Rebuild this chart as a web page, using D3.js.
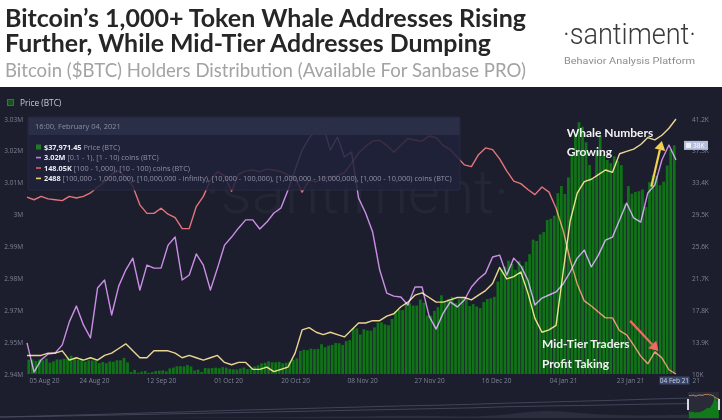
<!DOCTYPE html>
<html>
<head>
<meta charset="utf-8">
<script src="https://cdn.jsdelivr.net/npm/d3@7"></script>
<style>
  html, body { margin: 0; padding: 0; background: #1c1e2d; }
  svg { display: block; }
</style>
</head>
<body>
<svg id="chart" width="722" height="420"></svg>
<script>
// ---- data ----
const startDate = new Date(Date.UTC(2020, 7, 5));
const endDate = new Date(Date.UTC(2021, 1, 5));

// daily BTC price, thousands of USD, 05 Aug 2020 .. 04 Feb 2021
const priceBTC = [
  11.75, 11.78, 11.60, 11.76, 11.68, 11.89, 11.39, 11.56, 11.78, 11.77, 11.86, 11.91, 12.25, 11.99,
  11.74, 11.86, 11.52, 11.68, 11.65, 11.75, 11.33, 11.47, 11.32, 11.54, 11.50, 11.68, 11.68,
  11.97, 11.41, 10.25, 10.51, 10.17, 10.28, 10.37, 10.13, 10.24, 10.36, 10.40, 10.44, 10.33, 10.68,
  10.79, 10.95, 10.95, 10.93, 11.09, 10.92, 10.42, 10.54, 10.25, 10.74, 10.69, 10.73, 10.77, 10.71,
  10.84, 10.78,
  10.62, 10.57, 10.55, 10.67, 10.79, 10.60, 10.67, 10.92, 11.06, 11.30, 11.38, 11.55, 11.43, 11.43,
  11.50, 11.32, 11.37, 11.50, 11.75, 11.92, 12.82, 12.97, 12.93, 13.11, 13.03, 13.07, 13.64, 13.27,
  13.46, 13.56, 13.80,
  13.76, 13.55, 14.02, 14.15, 15.59, 15.58, 14.83, 15.48, 15.33, 15.30, 15.70, 16.28, 16.32, 16.07,
  15.96, 16.73, 17.66, 17.80, 17.82, 18.62, 18.64, 18.37, 18.36, 19.11, 18.73, 17.15, 17.14, 17.72,
  18.18, 19.63,
  18.80, 19.20, 19.45, 18.70, 19.15, 19.36, 19.17, 18.32, 18.55, 18.26, 18.06, 18.80, 19.17, 19.27,
  19.44, 21.31, 22.81, 23.14, 23.87, 23.48, 22.75, 23.82, 23.24, 23.74, 24.66, 26.44, 26.28, 27.08,
  27.36, 28.84, 29.00,
  29.37, 32.13, 33.00, 32.03, 34.05, 36.82, 39.37, 40.80, 40.25, 38.35, 35.57, 33.92, 37.32, 39.19,
  36.83, 36.18, 35.79, 36.63, 36.07, 35.55, 30.83, 32.99, 32.07, 32.28, 32.37, 32.57, 30.43, 33.47,
  34.32, 34.27, 33.11,
  33.54, 35.51, 37.47, 37.971
];

// holder series, one value every 2 days from 05 Aug 2020
const lineStepDays = 2;
// [0.1 - 1), [1 - 10) coins, millions of addresses
const holdersSmall = [
  2.9537, 2.9432, 2.9476, 2.9497, 2.9501, 2.9530, 2.9613, 2.9670, 2.9602, 2.9555,
  2.9735, 2.9764, 2.9638, 2.9742, 2.9800, 2.9843, 2.9728, 2.9818, 2.9807, 2.9807,
  2.9890, 2.9919, 2.9764, 2.9782, 2.9858, 2.9818, 2.9728, 2.9807, 2.9890, 2.9919,
  2.9952, 2.9981, 2.9981, 2.9948, 2.9973, 3.0006, 3.0024, 3.0089, 3.0161, 3.0233,
  3.0276, 3.0309, 3.0320, 3.0233, 3.0280, 3.0208, 3.0226, 3.0060, 3.0006, 2.9937,
  2.9800, 2.9717, 2.9706, 2.9703, 2.9674, 2.9739, 2.9739, 2.9634, 2.9587, 2.9645,
  2.9685, 2.9667, 2.9692, 2.9739, 2.9768, 2.9789, 2.9847, 2.9854, 2.9782, 2.9843,
  2.9815, 2.9764, 2.9674, 2.9699, 2.9710, 2.9721, 2.9750, 2.9793, 2.9843, 2.9872,
  2.9811, 2.9854, 2.9908, 2.9919, 2.9981, 3.0042, 2.9988, 2.9973, 3.0078, 3.0107,
  3.0197, 3.0251, 3.0197
];
// [100 - 1,000), [10 - 100) coins, thousands of addresses
const holdersMid = [
  150.08, 150.05, 150.09, 150.06, 150.05, 150.04, 150.09, 150.07, 150.09, 150.13,
  150.20, 150.26, 150.35, 150.39, 150.31, 150.21, 149.99, 149.89, 149.89, 149.95,
  149.88, 149.84, 149.71, 149.71, 149.97, 150.09, 150.28, 150.38, 150.33, 150.15,
  150.35, 150.39, 150.40, 150.38, 150.41, 150.40, 150.38, 150.34, 150.31, 150.14,
  150.28, 150.26, 150.31, 150.32, 150.33, 150.37, 150.48, 150.60, 150.68, 150.74,
  150.75, 150.69, 150.61, 150.69, 150.77, 150.75, 150.74, 150.80, 150.78, 150.69,
  150.64, 150.55, 150.46, 150.44, 150.58, 150.66, 150.64, 150.53, 150.39, 150.27,
  150.24, 150.17, 150.11, 150.20, 150.14, 149.95, 149.69, 149.34, 149.06, 148.86,
  148.80, 148.73, 148.66, 148.66, 148.51, 148.46, 148.34, 148.21, 148.12, 148.26,
  148.19, 148.05, 148.00
];
// 1,000+ coins (whales), addresses
const holdersWhale = [
  2386, 2386, 2386, 2387, 2387, 2388, 2384, 2385, 2384, 2385,
  2384, 2386, 2387, 2389, 2391, 2388, 2385, 2385, 2388, 2388,
  2388, 2387, 2385, 2386, 2385, 2384, 2385, 2386, 2383, 2382,
  2383, 2383, 2380, 2380, 2381, 2379, 2380, 2381, 2387, 2397,
  2398, 2396, 2395, 2396, 2395, 2394, 2397, 2400, 2400, 2401,
  2401, 2403, 2404, 2407, 2409, 2412, 2413, 2411, 2409, 2409,
  2410, 2411, 2411, 2410, 2412, 2414, 2417, 2424, 2419, 2420,
  2422, 2413, 2402, 2396, 2397, 2399, 2422, 2444, 2456, 2461,
  2462, 2464, 2466, 2465, 2473, 2474, 2475, 2477, 2480, 2479,
  2481, 2484, 2488
];

// axis ticks
const leftTicks = [2.9425, 2.954, 2.9655, 2.977, 2.9885, 3.0, 3.0115, 3.023, 3.0345];
const rightTicks = [10, 13.9, 17.8, 21.7, 25.6, 29.5, 33.4, 37.3, 41.2];
const xTickStepDays = 19;
const xTickCount = 10;

// tooltip rows
const tooltipTitle = "16:00, February 04, 2021";
const tooltipValues = ["$37,971.45", "3.02M", "148.05K", "2488"];
const tooltipLabels = [
  " Price (BTC)",
  " [0.1 - 1), [1 - 10) coins (BTC)",
  " [100 - 1,000), [10 - 100) coins (BTC)",
  " [100,000 - 1,000,000), [10,000,000 - infinity), [10,000 - 100,000), [1,000,000 - 10,000,000), [1,000 - 10,000) coins (BTC)"
];

// annotations: [day offset from start, price K]
const noteWhale = ["Whale Numbers", "Growing"];
const noteWhalePos = [[153.4, 39.0], [153.4, 36.7]];
const noteMid = ["Mid-Tier Traders", "Profit Taking"];
const noteMidPos = [[146.0, 13.2], [146.0, 10.75]];
const arrowWhale = [[177.6, 32.9], [180.1, 38.5]];
const arrowMid = [[171.5, 16.5], [179.6, 12.8]];

// navigator history (faint, normalised)
const navHistA = [0.04, 0.08, 0.12, 0.16, 0.21, 0.25, 0.3, 0.34, 0.38, 0.42, 0.46, 0.5, 0.53, 0.57, 0.62, 0.66, 0.7, 0.74, 0.79, 0.83];
const navHistB = [0.04, 0.06, 0.09, 0.12, 0.15, 0.18, 0.21, 0.24, 0.27, 0.3, 0.33, 0.36, 0.39, 0.42, 0.47, 0.5, 0.52, 0.55, 0.58, 0.6];
const navHistPrice = [0, 0, 0, 0, 0.01, 0.01, 0.02, 0.02, 0.03, 0.05, 0.06, 0.1, 0.08, 0.05, 0.12, 0.35, 0.2, 0.12, 0.1, 0.14];

const colors = {
  bg: "#1c1e2d",
  bar: "#107318",
  small: "#c47fe0",
  mid: "#e2625e",
  whale: "#e9d07a",
  axis: "#7f8296"
};

// ---- layout ----
const svg = d3.select("#chart");
const W = 722, H = 420;
const plot = { left: 27, right: 676, top: 119, bottom: 374 };

const x = d3.scaleUtc().domain([startDate, endDate]).range([plot.left, plot.right]);
const yLeft = d3.scaleLinear().domain([2.9425, 3.0345]).range([plot.bottom, plot.top]);
const yRight = d3.scaleLinear().domain([10, 41.2]).range([plot.bottom, plot.top]);
const yMid = d3.scaleLinear().domain([148.0, 151.0]).range([plot.bottom, plot.top]);
const yWhale = d3.scaleLinear().domain([2378, 2488]).range([plot.bottom, plot.top]);

const dayAt = i => d3.utcDay.offset(startDate, i);
const lineDate = i => d3.utcDay.offset(startDate, i * lineStepDays);

// header
svg.append("rect").attr("width", W).attr("height", 87).attr("fill", "#ffffff");
svg.append("rect").attr("y", 87).attr("width", W).attr("height", H - 87).attr("fill", colors.bg);

const title = svg.append("g").attr("font-family", "Lato, 'Open Sans', sans-serif");
title.append("text").attr("x", 5).attr("y", 27)
    .attr("font-size", 24).attr("font-weight", 700).attr("fill", "#262626")
    .attr("textLength", 521).attr("lengthAdjust", "spacingAndGlyphs")
    .text("Bitcoin’s 1,000+ Token Whale Addresses Rising");
title.append("text").attr("x", 5).attr("y", 52)
    .attr("font-size", 24).attr("font-weight", 700).attr("fill", "#262626")
    .attr("textLength", 486).attr("lengthAdjust", "spacingAndGlyphs")
    .text("Further, While Mid-Tier Addresses Dumping");
title.append("text").attr("x", 5).attr("y", 77)
    .attr("font-size", 18.5).attr("font-weight", 400).attr("fill", "#a3a3a3")
    .attr("textLength", 521).attr("lengthAdjust", "spacingAndGlyphs")
    .text("Bitcoin ($BTC) Holders Distribution (Available For Sanbase PRO)");

svg.append("text").attr("x", 563).attr("y", 44)
    .attr("font-family", "Roboto, sans-serif").attr("font-weight", 300)
    .attr("font-size", 30).attr("fill", "#3a3a3a")
    .attr("textLength", 133).attr("lengthAdjust", "spacingAndGlyphs")
    .text("·santiment·");
svg.append("text").attr("x", 564).attr("y", 64)
    .attr("font-family", "Roboto, sans-serif").attr("font-size", 9.5).attr("fill", "#8c8c8c")
    .attr("textLength", 131).attr("lengthAdjust", "spacingAndGlyphs")
    .text("Behavior Analysis Platform");

// watermark
svg.append("text").attr("x", 205).attr("y", 213)
    .attr("font-family", "Roboto, sans-serif").attr("font-weight", 300)
    .attr("font-size", 62).attr("fill", "#ffffff").attr("fill-opacity", 0.04)
    .text("·santiment·");

// price bars
svg.append("g")
  .selectAll("rect")
  .data(priceBTC)
  .join("rect")
    .attr("x", (d, i) => x(dayAt(i)) + 0.4)
    .attr("width", (d, i) => x(dayAt(i + 1)) - x(dayAt(i)) - 0.8)
    .attr("y", d => yRight(d))
    .attr("height", d => yRight(10) - yRight(d))
    .attr("fill", colors.bar);

// holder lines
const series = [
  { values: holdersSmall, scale: yLeft, color: colors.small },
  { values: holdersMid, scale: yMid, color: colors.mid },
  { values: holdersWhale, scale: yWhale, color: colors.whale }
];
const gLines = svg.append("g");
series.forEach(s => {
  const line = d3.line()
      .x((d, i) => x(lineDate(i)))
      .y(d => s.scale(d));
  gLines.append("path")
      .attr("d", line(s.values))
      .attr("fill", "none")
      .attr("stroke", s.color)
      .attr("stroke-width", 1.4)
      .attr("stroke-linejoin", "round")
      .style("mix-blend-mode", "screen");
});

// axes
const axisFont = g => g.selectAll("text")
    .attr("fill", colors.axis)
    .attr("font-family", "'Open Sans', sans-serif")
    .attr("font-size", 6.5);

const gLeft = svg.append("g")
    .attr("transform", "translate(" + 24 + ",0)")
    .call(d3.axisLeft(yLeft).tickValues(leftTicks).tickFormat(d3.format(".3~s")).tickSize(0).tickPadding(1));
gLeft.selectAll("text").text(d => d3.format(".3~s")(d * 1e6));
gLeft.call(axisFont);

const gRight = svg.append("g")
    .attr("transform", "translate(" + 691 + ",0)")
    .call(d3.axisRight(yRight).tickValues(rightTicks)
      .tickFormat(d => d3.format("~")(+d.toFixed(1)) + "K").tickSize(0).tickPadding(1));
gRight.call(axisFont);

const xTicks = d3.range(xTickCount).map(i => dayAt(i * xTickStepDays));
const gBottom = svg.append("g")
    .attr("transform", "translate(0," + 375 + ")")
    .call(d3.axisBottom(x).tickValues(xTicks).tickFormat(d3.utcFormat("%d %b %y")).tickSize(0).tickPadding(3));
gBottom.call(axisFont);
gBottom.selectAll(".tick text").filter((d, i) => i === 0)
    .attr("text-anchor", "start").attr("dx", 2);
[gLeft, gRight, gBottom].forEach(g => g.select(".domain").remove());

// current value markers
const lastDay = dayAt(priceBTC.length - 1);
const tagX = x(lastDay);
svg.append("rect").attr("x", tagX - 13).attr("y", 376.5).attr("width", 30).attr("height", 8)
    .attr("fill", "#3a4668");
svg.append("text").attr("x", tagX + 2).attr("y", 382.5).attr("text-anchor", "middle")
    .attr("font-family", "'Open Sans', sans-serif").attr("font-size", 6.5).attr("fill", "#c9d0ec")
    .text(d3.utcFormat("%d %b %y")(lastDay));
svg.append("text").attr("x", tagX + 20).attr("y", 382.5)
    .attr("font-family", "'Open Sans', sans-serif").attr("font-size", 6.5).attr("fill", colors.axis)
    .text("21");

const lastPrice = priceBTC[priceBTC.length - 1];
svg.append("rect").attr("x", 684).attr("y", yRight(lastPrice) - 4.5).attr("width", 24).attr("height", 9)
    .attr("fill", "#b7bedb");
svg.append("rect").attr("x", 686).attr("y", yRight(lastPrice) - 2.5).attr("width", 5).attr("height", 5)
    .attr("fill", "#eef0f8");
svg.append("text").attr("x", 693).attr("y", yRight(lastPrice) + 2.3)
    .attr("font-family", "'Open Sans', sans-serif").attr("font-size", 6.5).attr("fill", "#ffffff")
    .text(Math.round(lastPrice) + "K");

// legend
svg.append("rect").attr("x", 7.5).attr("y", 99.5).attr("width", 6).attr("height", 6)
    .attr("fill", "#14531a").attr("stroke", "#2f8d36").attr("stroke-width", 0.8);
svg.append("text").attr("x", 20).attr("y", 105.5)
    .attr("font-family", "'Open Sans', sans-serif").attr("font-size", 8.3).attr("fill", "#c9cbd6")
    .text("Price (BTC)");

// tooltip
const tip = svg.append("g").attr("font-family", "'Open Sans', sans-serif");
tip.append("rect").attr("x", 28).attr("y", 117).attr("width", 432).attr("height", 73).attr("rx", 2)
    .attr("fill", "#20223a").attr("fill-opacity", 0.86)
    .attr("stroke", "#2c2f48").attr("stroke-width", 0.8);
tip.append("rect").attr("x", 28.5).attr("y", 117.5).attr("width", 431).attr("height", 17.5)
    .attr("fill", "#2d3049").attr("fill-opacity", 0.85);
tip.append("text").attr("x", 35).attr("y", 129).attr("font-size", 7.5).attr("fill", "#8b8ea4")
    .text(tooltipTitle);
const markColors = ["#1f7a26", colors.small, colors.mid, colors.whale];
tooltipValues.forEach((v, i) => {
  const yy = 150 + i * 10.4;
  if (i === 0) {
    tip.append("rect").attr("x", 36).attr("y", yy - 5.5).attr("width", 5).attr("height", 5)
        .attr("fill", markColors[i]);
  } else {
    tip.append("rect").attr("x", 36).attr("y", yy - 3.6).attr("width", 5).attr("height", 1.6)
        .attr("fill", markColors[i]);
  }
  const t = tip.append("text").attr("x", 44).attr("y", yy).attr("font-size", 7.3);
  t.append("tspan").attr("font-weight", 700).attr("fill", "#eceef6").text(v);
  t.append("tspan").attr("fill", "#8e91a6").text(tooltipLabels[i]);
});

// annotations
const ann = svg.append("g").attr("font-family", "Lato, 'Open Sans', sans-serif")
    .attr("font-weight", 700).attr("font-size", 12).attr("fill", "#f1f1f1");
noteWhale.forEach((t, i) => ann.append("text")
    .attr("x", x(dayAt(noteWhalePos[i][0]))).attr("y", yRight(noteWhalePos[i][1])).text(t));
noteMid.forEach((t, i) => ann.append("text")
    .attr("x", x(dayAt(noteMidPos[i][0]))).attr("y", yRight(noteMidPos[i][1])).text(t));

function drawArrow(pts, color) {
  const [x0, y0] = [x(dayAt(pts[0][0])), yRight(pts[0][1])];
  const [x1, y1] = [x(dayAt(pts[1][0])), yRight(pts[1][1])];
  const ang = Math.atan2(y1 - y0, x1 - x0);
  const len = 9, half = 5.5;
  const bx = x1 - len * Math.cos(ang), by = y1 - len * Math.sin(ang);
  svg.append("line").attr("x1", x0).attr("y1", y0).attr("x2", bx).attr("y2", by)
      .attr("stroke", color).attr("stroke-width", 2.2);
  svg.append("path")
      .attr("d", "M" + x1 + "," + y1 +
        "L" + (bx + half * Math.sin(ang)) + "," + (by - half * Math.cos(ang)) +
        "L" + (bx - half * Math.sin(ang)) + "," + (by + half * Math.cos(ang)) + "Z")
      .attr("fill", color);
}
drawArrow(arrowWhale, "#f3cf52");
drawArrow(arrowMid, "#ee6a62");

// navigator
const nav = { left: 0, right: 688, top: 394, bottom: 418 };
const xNavHist = d3.scaleLinear().domain([0, navHistA.length - 1]).range([nav.left, nav.right]);
const yNavHist = d3.scaleLinear().domain([0, 1]).range([nav.bottom, nav.top]);
svg.append("path")
    .attr("d", d3.area().x((d, i) => xNavHist(i)).y0(nav.bottom).y1(d => yNavHist(d)).curve(d3.curveBasis)(navHistPrice))
    .attr("fill", "#3a3d52").attr("fill-opacity", 0.5);
[navHistA, navHistB].forEach(arr => {
  svg.append("path")
      .attr("d", d3.line().x((d, i) => xNavHist(i)).y(d => yNavHist(d))(arr))
      .attr("fill", "none").attr("stroke", "#4a4d63").attr("stroke-width", 0.8);
});
const xNav = d3.scaleUtc().domain([startDate, endDate]).range([689, 719]);
const yNavPrice = d3.scaleLinear().domain([0, 41.2]).range([418, 396]);
svg.append("rect").attr("x", 688).attr("y", 392).attr("width", 31).attr("height", 27)
    .attr("fill", "#ffffff").attr("fill-opacity", 0.06);
svg.append("path")
    .attr("d", d3.area().x((d, i) => xNav(dayAt(i))).y0(418).y1(d => yNavPrice(d))(priceBTC))
    .attr("fill", "#127a1a");
const yNavMid = d3.scaleLinear().domain([148.0, 151.0]).range([399, 394]);
svg.append("path")
    .attr("d", d3.line().x((d, i) => xNav(lineDate(i))).y(d => yNavMid(d))(holdersMid))
    .attr("fill", "none").attr("stroke", "#e6a070").attr("stroke-width", 1);
svg.append("rect").attr("x", 687).attr("y", 399).attr("width", 2).attr("height", 11).attr("fill", "#d3d7e6");
svg.append("rect").attr("x", 718).attr("y", 399).attr("width", 2).attr("height", 11).attr("fill", "#d3d7e6");
</script>
</body>
</html>
